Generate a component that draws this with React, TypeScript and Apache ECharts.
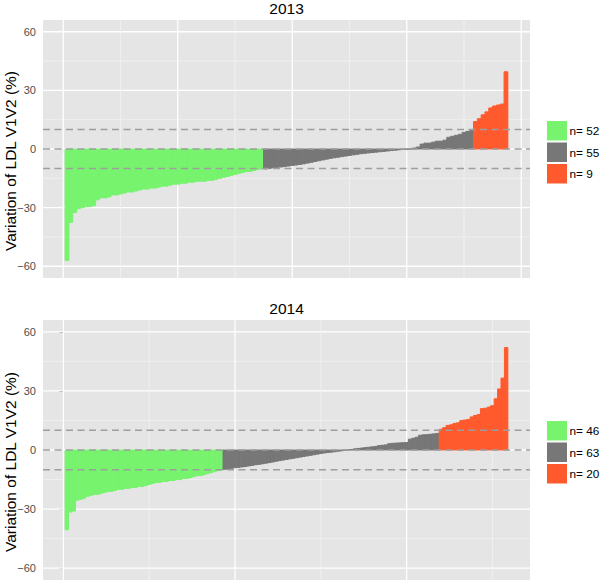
import React, { useEffect, useRef } from "react";
import * as echarts from "echarts";

// ---- data ----
const panelTitles = ["2013", "2014"];

const green2013 = [
  -57, -37.5, -32.5, -30.5, -30, -29.5, -29.5, -29, -26, -25, -25, -24.5, -23.5, -23.5, -23,
  -22.5, -22, -22, -21.5, -21, -20.5, -20.5, -20, -20, -19.5, -19, -19, -18.5, -18, -18,
  -17.5, -17.5, -17, -17, -16.5, -16.5, -16.5, -16, -16, -15.5, -15, -14.5, -14, -13.5, -13,
  -12.5, -12, -11.5, -11.5, -11, -10.5, -10.2,
];
const grey2013 = [
  -10.2, -9.9, -9.6, -9.4, -9.2, -9.0, -8.7, -8.4, -8.2, -7.9, -7.6, -7.2, -6.8, -6.4, -6.0,
  -5.6, -5.2, -4.8, -4.5, -4.2, -3.9, -3.6, -3.3, -3.0, -2.7, -2.4, -2.2, -2.0, -1.8, -1.6,
  -1.4, -1.2, -1.0, -0.8, -0.6, -0.4, -0.2, -0.1, 0, 0.5, 1.0, 2.5, 3.0, 3.0, 3.5, 4.0, 4.0,
  4.5, 6.0, 6.5, 7.0, 7.5, 8.5, 9.0, 9.5,
];
const orange2013 = [14, 15.5, 17.5, 19, 21, 22, 22.5, 23, 39.5];

const green2014 = [
  -40.5, -31.5, -31, -25.5, -25, -24.5, -23.5, -23, -22.5, -22.5, -22, -21.5, -21, -21, -20.5,
  -20, -20, -19.5, -19.5, -19, -19, -18.5, -18.5, -18, -17.5, -17, -16.5, -16.5, -16, -16,
  -15.5, -15.5, -15, -15, -14.5, -14.5, -14, -13.5, -13, -13, -12.5, -12, -11.5, -11, -10.5,
  -10.2,
];
const grey2014 = [
  -9.8, -9.6, -9.3, -9.0, -8.8, -8.6, -8.4, -8.1, -7.8, -7.5, -7.3, -7.0, -6.7, -6.4, -6.1,
  -5.7, -5.4, -5.1, -4.8, -4.5, -4.2, -3.9, -3.6, -3.3, -3.0, -2.7, -2.4, -2.1, -1.8, -1.5,
  -1.3, -1.1, -0.9, -0.6, -0.4, -0.2, 0, 0.2, 0.6, 0.8, 1.0, 1.2, 1.4, 1.6, 1.8, 2.2, 2.4,
  2.6, 3.2, 3.4, 3.5, 3.6, 3.7, 3.8, 5.5, 6.0, 6.5, 7.5, 7.7, 7.8, 8.0, 8.2, 8.4,
];
const orange2014 = [
  10.5, 11.3, 12.5, 12.8, 13.5, 13.8, 15, 15.2, 15.5, 16.8, 17.5, 18, 21, 21.2, 21.8, 22.5, 26,
  31, 36.5, 52,
];

const yTicks = [-60, -30, 0, 30, 60];
const yMinor = [-45, -15, 15, 45];
const xMajor2013 = [0, 30, 60, 90, 120];
const xMinor2013 = [15, 45, 75, 105];
const xMajor2014 = [0, 50, 100];
const xMinor2014 = [25, 75, 125];
const thresholds = [-10, 0, 10];

const yAxisTitle = "Variation of LDL V1V2 (%)";
const groupColors = ["#77F36E", "#777777", "#FF5A2E"];

const FONT = "'Liberation Sans', Arial, Helvetica, sans-serif";

export default function App() {
  const ref = useRef<HTMLDivElement>(null);

  useEffect(() => {
    if (!ref.current) return;
    const chart = echarts.init(ref.current, null, { renderer: "svg" });

    const panels = [
      { groups: [green2013, grey2013, orange2013], xMajor: xMajor2013, xMinor: xMinor2013 },
      { groups: [green2014, grey2014, orange2014], xMajor: xMajor2014, xMinor: xMinor2014 },
    ];
    const gridTops = [20, 320];
    const gridHeights = [258, 260];

    const grids: any[] = [];
    const xAxes: any[] = [];
    const yAxes: any[] = [];
    const series: any[] = [];
    const graphics: any[] = [];

    panels.forEach((p, pi) => {
      const total = p.groups.reduce((s, g) => s + g.length, 0);
      const pad = total * 0.05;
      grids.push({
        left: 43,
        top: gridTops[pi],
        width: 487,
        height: gridHeights[pi],
        show: true,
        backgroundColor: "#E5E5E5",
        borderWidth: 0,
        containLabel: false,
        outerBoundsMode: "none",
      });
      xAxes.push({
        type: "value",
        gridIndex: pi,
        min: 0.5 - pad,
        max: total + 0.5 + pad,
        axisLine: { show: false },
        splitLine: { show: false },
        axisLabel: { show: false, customValues: p.xMajor },
        axisTick: { show: true, length: 4, customValues: p.xMajor, lineStyle: { color: "#7F7F7F" } },
      });
      yAxes.push({
        type: "value",
        gridIndex: pi,
        min: -66,
        max: 66,
        axisLine: { show: false },
        splitLine: { show: false },
        axisTick: { show: true, length: 4, customValues: yTicks, lineStyle: { color: "#7F7F7F" } },
        axisLabel: {
          customValues: yTicks,
          margin: 7,
          fontSize: 11,
          color: "#4D4D4D",
          fontFamily: FONT,
          formatter: (v: number) => (v < 0 ? "\u2212" + Math.abs(v) : String(v)),
        },
      });

      // y-axis title
      graphics.push({
        type: "text",
        x: 10.5,
        y: gridTops[pi] + gridHeights[pi] / 2 + 12,
        rotation: Math.PI / 2,
        style: {
          text: yAxisTitle,
          fontSize: 15.5,
          fill: "#000",
          fontFamily: FONT,
          textAlign: "center",
          textVerticalAlign: "middle",
        },
      });

      // grid lines (drawn beneath bars)
      const gridData: number[][] = [];
      yTicks.forEach((v) => gridData.push([0, v]));
      yMinor.forEach((v) => gridData.push([1, v]));
      p.xMajor.forEach((v) => gridData.push([2, v]));
      p.xMinor.forEach((v) => gridData.push([3, v]));
      series.push({
        type: "custom",
        xAxisIndex: pi,
        yAxisIndex: pi,
        z: 1,
        silent: true,
        encode: { x: -1, y: -1 },
        data: gridData,
        renderItem: (params: any, api: any) => {
          const cs = params.coordSys;
          const kind = api.value(0);
          const val = api.value(1);
          const major = kind === 0 || kind === 2;
          const style = { stroke: major ? "#FFFFFF" : "#F2F2F2", lineWidth: major ? 1.3 : 0.8 };
          if (kind <= 1) {
            const y = api.coord([0, val])[1];
            return { type: "line", shape: { x1: cs.x, y1: y, x2: cs.x + cs.width, y2: y }, style };
          }
          const x = api.coord([val, 0])[0];
          return { type: "line", shape: { x1: x, y1: cs.y, x2: x, y2: cs.y + cs.height }, style };
        },
      });

      // bars
      let offset = 0;
      p.groups.forEach((vals, gi) => {
        const color = groupColors[gi];
        const data = vals.map((v, k) => [offset + k + 1, v]);
        offset += vals.length;
        series.push({
          type: "custom",
          name: "n= " + vals.length,
          xAxisIndex: pi,
          yAxisIndex: pi,
          z: 2,
          itemStyle: { color },
          data,
          renderItem: (_params: any, api: any) => {
            const x = api.value(0);
            const v = api.value(1);
            const a = api.coord([x - 0.5, 0]);
            const b = api.coord([x + 0.5, v]);
            return {
              type: "rect",
              shape: {
                x: a[0],
                y: Math.min(a[1], b[1]),
                width: b[0] - a[0],
                height: Math.abs(b[1] - a[1]),
              },
              style: { fill: color, stroke: color, lineWidth: 1 },
            };
          },
        });

        // legend key + label
        const keyTop = gridTops[pi] + 101 + gi * 21.5;
        graphics.push({
          type: "rect",
          shape: { x: 547, y: keyTop, width: 20, height: 19.5 },
          style: { fill: color },
        });
        graphics.push({
          type: "text",
          x: 569.5,
          y: keyTop + 10,
          style: {
            text: "n= " + vals.length,
            fontSize: 11.8,
            fill: "#000",
            fontFamily: FONT,
            textAlign: "left",
            textVerticalAlign: "middle",
          },
        });
      });

      // dashed threshold lines (above bars)
      series.push({
        type: "custom",
        xAxisIndex: pi,
        yAxisIndex: pi,
        z: 3,
        silent: true,
        encode: { x: -1, y: 0 },
        data: thresholds.map((t) => [t]),
        renderItem: (params: any, api: any) => {
          const cs = params.coordSys;
          const y = api.coord([0, api.value(0)])[1];
          return {
            type: "line",
            shape: { x1: cs.x, y1: y, x2: cs.x + cs.width, y2: y },
            style: { stroke: "#9E9E9E", lineWidth: 1.4, lineDash: [7, 4.5] },
          };
        },
      });

      graphics.push({
        type: "text",
        x: 286.5,
        y: gridTops[pi] - 12,
        style: {
          text: panelTitles[pi],
          fontSize: 15.5,
          fill: "#000",
          fontFamily: FONT,
          textAlign: "center",
          textVerticalAlign: "middle",
        },
      });
    });

    chart.setOption({
      animation: false,
      backgroundColor: "#FFFFFF",
      grid: grids,
      xAxis: xAxes,
      yAxis: yAxes,
      series,
      graphic: graphics,
    });

    return () => chart.dispose();
  }, []);

  return (
    <div
      ref={ref}
      style={{ position: "fixed", left: 0, top: 0, width: 600, height: 583 }}
    />
  );
}
